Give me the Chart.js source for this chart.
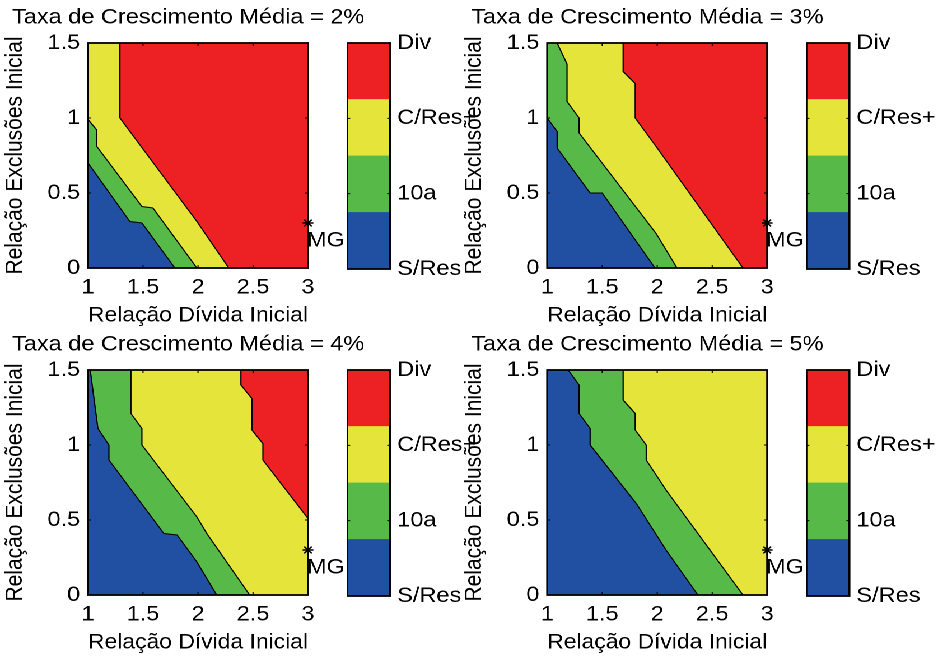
<!DOCTYPE html>
<html>
<head>
<meta charset="utf-8">
<script src="https://cdn.jsdelivr.net/npm/chart.js@4.4.1/dist/chart.umd.min.js"></script>
<style>
  html, body { margin: 0; padding: 0; background: #fff; overflow: hidden; }
  /* the whole figure is drawn narrow and stretched sideways */
  #fig { position: absolute; left: 0; top: 0; width: 839px; height: 656px;
         transform: scaleX(1.12); transform-origin: 0 0; }
  #fig canvas { position: absolute; }
</style>
</head>
<body>
<div id="fig"></div>
<script>
const SX = 1.12;
const FONT = '"Liberation Sans", Arial, Helvetica, sans-serif';

const growthRates = ['2%', '3%', '4%', '5%'];
const xTicks = [1, 1.5, 2, 2.5, 3];
const yTicks = [0, 0.5, 1, 1.5];
const levelTicks = [0, 1, 2, 3];
const levelLabels = ['S/Res', '10a', 'C/Res+', 'Div'];
const levelColors = ['#2150a2', '#57b947', '#e5e43b', '#ed2024'];
const levelBands = [0, 0.75, 1.5, 2.25, 3];
const mgPoint = [3, 0.3];
const mgLabel = 'MG';

// upper-right boundary of the blue, green and yellow zones for each rate
const blue2 = [[1, 0.7], [1.38, 0.31], [1.49, 0.3], [1.79, 0]];
const green2 = [[1, 0.99], [1.08, 0.92], [1.08, 0.81], [1.49, 0.41], [1.59, 0.4], [1.99, 0]];
const yellow2 = [[1.29, 1.5], [1.29, 1], [1.99, 0.31], [2.28, 0]];

const blue3 = [[1, 1], [1.09, 0.91], [1.09, 0.8], [1.39, 0.5], [1.5, 0.5], [1.98, 0]];
const green3 = [[1.09, 1.5], [1.18, 1.36], [1.18, 1.11], [1.29, 1], [1.29, 0.9], [1.99, 0.23], [2.18, 0]];
const yellow3 = [[1.69, 1.5], [1.69, 1.31], [1.8, 1.23], [1.8, 1], [1.98, 0.82], [2.78, 0]];

const blue4 = [[1.02, 1.5], [1.09, 1.11], [1.19, 1], [1.19, 0.9], [1.69, 0.41], [1.81, 0.4], [1.99, 0.22], [2.17, 0]];
const green4 = [[1.39, 1.5], [1.39, 1.21], [1.49, 1.11], [1.49, 1], [1.99, 0.52], [2.08, 0.41], [2.47, 0]];
const yellow4 = [[2.39, 1.5], [2.39, 1.4], [2.49, 1.31], [2.49, 1.1], [2.59, 1.01], [2.59, 0.9], [3, 0.51]];

const blue5 = [[1.19, 1.5], [1.29, 1.4], [1.29, 1.21], [1.39, 1.11], [1.39, 1], [1.81, 0.61], [2.08, 0.3], [2.37, 0]];
const green5 = [[1.69, 1.5], [1.69, 1.3], [1.8, 1.21], [1.8, 1.1], [1.9, 1], [1.9, 0.9], [2.08, 0.7], [2.78, 0]];
const yellow5 = null; // no Div zone at 5%

const zoneEdges = [
  [blue2, green2, yellow2],
  [blue3, green3, yellow3],
  [blue4, green4, yellow4],
  [blue5, green5, yellow5],
];

// panel placement (in unstretched px)
const colLeft = [0, 409.8];
const rowTop = [0, 327];

Chart.defaults.font.family = FONT;
Chart.defaults.font.size = 21;
Chart.defaults.color = '#000';

const toXY = pts => pts.map(p => ({ x: p[0], y: p[1] }));

// zone left/below an edge; the extra corners run back along the frame
function zoneBelow(edge) {
  if (!edge) return toXY([[1, 0], [1, 1.5], [3, 1.5], [3, 0]]);
  return toXY(edge.concat([[3, 0], [1, 0], [1, 1.5]]));
}

// frame with inward tick marks on every side
const boxTicks = {
  id: 'boxTicks',
  afterDatasetsDraw(chart, args, opts) {
    const { ctx, chartArea: a, scales } = chart;
    const len = opts.len || 3;
    ctx.save();
    ctx.strokeStyle = '#000';
    ctx.lineWidth = 1;
    ctx.beginPath();
    if (opts.x) {
      scales.x.ticks.forEach(t => {
        const px = scales.x.getPixelForValue(t.value);
        ctx.moveTo(px, a.bottom); ctx.lineTo(px, a.bottom - len);
        ctx.moveTo(px, a.top); ctx.lineTo(px, a.top + len);
      });
    }
    scales.y.ticks.forEach(t => {
      const py = scales.y.getPixelForValue(t.value);
      ctx.moveTo(a.left, py); ctx.lineTo(a.left + len / SX, py);
      ctx.moveTo(a.right, py); ctx.lineTo(a.right - len / SX, py);
    });
    ctx.stroke();
    ctx.lineWidth = 1.8;
    ctx.strokeRect(a.left, a.top, a.right - a.left, a.bottom - a.top);
    ctx.restore();
  }
};

// "MG" tag next to the marker
const mgText = {
  id: 'mgText',
  afterDatasetsDraw(chart) {
    const { ctx, scales } = chart;
    const px = scales.x.getPixelForValue(mgPoint[0]);
    const py = scales.y.getPixelForValue(mgPoint[1]);
    ctx.save();
    ctx.font = '21px ' + FONT;
    ctx.fillStyle = '#000';
    ctx.textBaseline = 'alphabetic';
    ctx.fillText(mgLabel, px - 1, py + 23.5);
    ctx.restore();
  }
};

// left-aligned panel heading, wider than the plot so drawn freely
const panelTitle = {
  id: 'panelTitle',
  afterDraw(chart, args, opts) {
    const ctx = chart.ctx;
    ctx.save();
    ctx.font = '21px ' + FONT;
    ctx.fillStyle = '#000';
    ctx.textBaseline = 'middle';
    ctx.textAlign = 'left';
    ctx.fillText(opts.text, 10.7, 17.8);
    ctx.restore();
  }
};

function addCanvas(left, top, w, h) {
  const c = document.createElement('canvas');
  c.width = w;
  c.height = h;
  c.style.left = left + 'px';
  c.style.top = top + 'px';
  document.getElementById('fig').appendChild(c);
  return c;
}

function makePanel(i) {
  const left = colLeft[i % 2];
  const top = rowTop[Math.floor(i / 2)];
  const edges = zoneEdges[i];

  const datasets = [];
  datasets.push({
    data: toXY([mgPoint]), showLine: false, pointStyle: 'star', pointRadius: 4.8,
    pointBorderColor: '#000', pointBorderWidth: 1.4, clip: false
  });
  edges.forEach(e => {
    if (!e) return;
    datasets.push({
      data: toXY(e), fill: false, borderColor: '#000', borderWidth: 1.1,
      pointRadius: 0, tension: 0
    });
  });
  // blue, green, yellow zones, then the red background underneath
  edges.forEach((e, k) => {
    datasets.push({
      data: zoneBelow(e), fill: 'shape', backgroundColor: levelColors[k],
      borderColor: 'transparent', borderWidth: 0, pointRadius: 0, tension: 0
    });
  });
  datasets.push({
    data: zoneBelow(null), fill: 'shape', backgroundColor: levelColors[3],
    borderColor: 'transparent', borderWidth: 0, pointRadius: 0, tension: 0
  });

  new Chart(addCanvas(left, top, 340, 335), {
    type: 'line',
    data: { datasets },
    options: {
      responsive: false,
      animation: false,
      devicePixelRatio: 2,
      events: [],
      layout: { padding: { left: 10.7, right: 65, top: 43, bottom: 0 } },
      plugins: {
        legend: { display: false },
        tooltip: { enabled: false },
        title: { display: false },
        panelTitle: { text: 'Taxa de Crescimento Média = ' + growthRates[i] },
        boxTicks: { x: true, len: 3 }
      },
      scales: {
        x: {
          type: 'linear', min: 1, max: 3,
          afterBuildTicks: s => { s.ticks = xTicks.map(v => ({ value: v })); },
          ticks: { padding: 7, autoSkip: false, maxRotation: 0, callback: v => String(v) },
          grid: { display: false, drawTicks: false },
          border: { display: false },
          title: { display: true, text: 'Relação Dívida Inicial', padding: { top: 0, bottom: 6.9 } },
          afterFit: s => { s.height = 67; }
        },
        y: {
          type: 'linear', min: 0, max: 1.5,
          afterBuildTicks: s => { s.ticks = yTicks.map(v => ({ value: v })); },
          ticks: { padding: 7, autoSkip: false, callback: v => String(v) },
          grid: { display: false, drawTicks: false },
          border: { display: false },
          title: { display: true, text: 'Relação Exclusões Inicial', padding: { top: -9.5, bottom: 0 } },
          afterFit: s => { s.width = 67.9; }
        }
      }
    },
    plugins: [boxTicks, mgText, panelTitle]
  });

  // colour bar
  new Chart(addCanvas(left + 309.8, top, 130, 335), {
    type: 'bar',
    data: {
      labels: [''],
      datasets: levelColors.map((c, k) => ({
        data: [[levelBands[k], levelBands[k + 1]]],
        backgroundColor: c, borderWidth: 0,
        barPercentage: 1, categoryPercentage: 1, grouped: false
      }))
    },
    options: {
      responsive: false,
      animation: false,
      devicePixelRatio: 2,
      events: [],
      layout: { padding: { top: 43, bottom: 66, left: 0, right: 0 } },
      plugins: {
        legend: { display: false },
        tooltip: { enabled: false },
        boxTicks: { x: false, len: 3 }
      },
      scales: {
        x: { display: false },
        y: {
          position: 'right', min: 0, max: 3,
          afterBuildTicks: s => { s.ticks = levelTicks.map(v => ({ value: v })); },
          ticks: { padding: 6.25, autoSkip: false, callback: (v, idx) => levelLabels[idx] },
          grid: { display: false, drawTicks: false },
          border: { display: false },
          afterFit: s => { s.width = 91.6; }
        }
      }
    },
    plugins: [boxTicks]
  });
}

growthRates.forEach((r, i) => makePanel(i));
</script>
</body>
</html>
